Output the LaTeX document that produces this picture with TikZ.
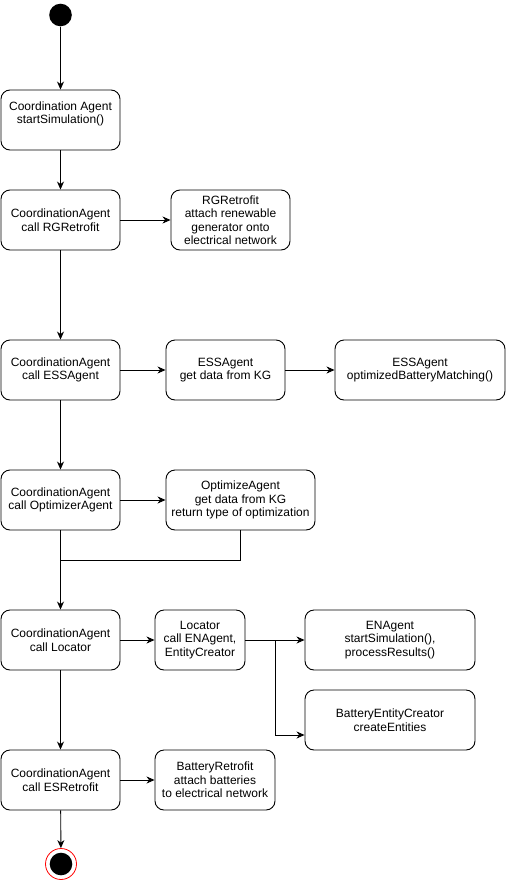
\documentclass[tikz,border=0pt]{standalone}
\usepackage{fontspec}
\setmainfont{Liberation Sans}
\usetikzlibrary{arrows.meta}
\begin{document}
\begin{tikzpicture}[x=1pt,y=-1pt,
  font=\fontsize{12}{13.5}\selectfont,
  act/.style={draw, rounded corners=9pt, line width=0.9pt, align=center,
    minimum height=60pt, inner sep=2pt},
  flow/.style={line width=0.9pt, -{Stealth[length=8pt,width=7pt,inset=2.5pt]}},
  plain/.style={line width=0.9pt}]
\useasboundingbox (0,0) rectangle (506,881);

% initial and final states
\fill (60.5,15) circle (11.3pt);
\node[circle, minimum size=22.6pt, inner sep=0pt] (startn) at (60.5,15) {};
\node[circle, draw=red, line width=0.8pt, minimum size=31pt, inner sep=0pt] (stop) at (61,864) {};
\fill (61,864) circle (11.3pt);

% main column
\node[act, minimum width=119pt] (b1) at (60.5,120) {};
\node[align=center] (b1text) at ([yshift=6pt]b1.center) {Coordination Agent\\startSimulation()};
\node[act, minimum width=119pt] (b2) at (60.5,220) {CoordinationAgent\\call RGRetrofit};
\node[act, minimum width=119pt] (b3) at (60.5,370) {CoordinationAgent\\call ESSAgent};
\node[act, minimum width=119pt] (b4) at (60.5,500) {CoordinationAgent\\call OptimizerAgent};
\node[act, minimum width=119pt] (b5) at (60.5,640) {CoordinationAgent\\call Locator};
\node[act, minimum width=119pt] (b6) at (60.5,780) {CoordinationAgent\\call ESRetrofit};

% side activities
\node[act, minimum width=119pt] (rg) at (230.5,220) {RGRetrofit\\attach renewable\\generator onto\\electrical network};
\node[act, minimum width=119pt] (ess1) at (225.5,370) {ESSAgent\\get data from KG};
\node[act, minimum width=170pt] (ess2) at (420,370) {ESSAgent\\optimizedBatteryMatching()};
\node[act, minimum width=149pt] (opt) at (240.5,500) {OptimizeAgent\\get data from KG\\return type of optimization};
\node[act, minimum width=90pt] (loc) at (200,640) {Locator\\call ENAgent,\\EntityCreator};
\node[act, minimum width=170pt] (en) at (390,640) {ENAgent\\startSimulation(),\\processResults()};
\node[act, minimum width=170pt] (bec) at (390,720) {BatteryEntityCreator\\createEntities};
\node[act, minimum width=120pt] (br) at (215,780) {BatteryRetrofit\\attach batteries\\to electrical network};

% helper points
\coordinate (merge) at (60.5,560);
\coordinate (fork) at (275,640);

% connectors
\draw[flow] (startn) -- (b1);
\draw[flow] (b1) -- (b2);
\draw[flow] (b2) -- (rg);
\draw[flow] (b2) -- (b3);
\draw[flow] (b3) -- (ess1);
\draw[flow] (ess1) -- (ess2);
\draw[flow] (b3) -- (b4);
\draw[flow] (b4) -- (opt);
\draw[flow] (b4) -- (b5);
\draw[plain] (opt.south) |- (merge);
\draw[flow] (b5) -- (loc);
\draw[plain] (loc.east) -- (fork);
\draw[flow] (fork) -- (en.west);
\draw[flow] (fork) |- ([yshift=-15pt]bec.west);
\draw[flow] (b5) -- (b6);
\draw[flow] (b6) -- (br);
\draw[flow] (b6) -- (stop);
\end{tikzpicture}
\end{document}
